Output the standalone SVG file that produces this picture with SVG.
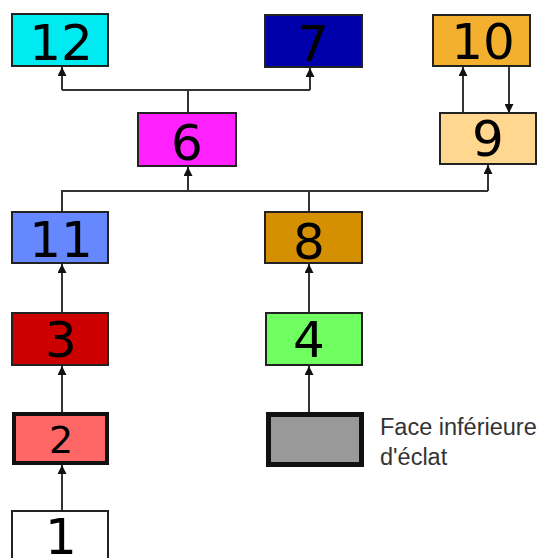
<svg xmlns="http://www.w3.org/2000/svg" width="541" height="558" viewBox="0 0 541 558">
<style>
.box{stroke:#222;stroke-width:2}
.thick{stroke:#111;stroke-width:4}
.num{font-family:"DejaVu Sans",sans-serif;font-size:50px;fill:#000;text-anchor:middle}
.lbl{font-family:"Liberation Sans",Arial,sans-serif;font-size:23.5px;fill:#333}
.c{fill:none;stroke:#333;stroke-width:2}
</style>
<defs>
<marker id="ah" viewBox="0 0 10 10" refX="10" refY="5" markerWidth="4.5" markerHeight="4.5" orient="auto" markerUnits="strokeWidth">
<path d="M0,0 L10,5 L0,10 z" fill="#111"/>
</marker>
</defs>
<rect width="541" height="558" fill="#fff"/>
<g id="connectors">
<path class="c" d="M188,113 V90 M62,90 H310"/>
<path class="c" d="M62,90 V67" marker-end="url(#ah)"/>
<path class="c" d="M310,90 V68" marker-end="url(#ah)"/>
<path class="c" d="M463,113 V67" marker-end="url(#ah)"/>
<path class="c" d="M509,67 V113" marker-end="url(#ah)"/>
<path class="c" d="M62,212 V191 H488 M309,212 V191"/>
<path class="c" d="M188,191 V167" marker-end="url(#ah)"/>
<path class="c" d="M488,191 V165" marker-end="url(#ah)"/>
<path class="c" d="M62,313 V264" marker-end="url(#ah)"/>
<path class="c" d="M62,412 V366" marker-end="url(#ah)"/>
<path class="c" d="M62,511 V465" marker-end="url(#ah)"/>
<path class="c" d="M309,313 V264" marker-end="url(#ah)"/>
<path class="c" d="M309,412 V366" marker-end="url(#ah)"/>
</g>
<g id="n12"><rect class="box" x="12" y="14" width="96" height="52" fill="#00EAF2"/><text class="num" x="61" y="60">12</text></g>
<g id="n7"><rect class="box" x="265" y="15" width="97" height="52" fill="#0000AA"/><text class="num" x="313" y="61">7</text></g>
<g id="n10"><rect class="box" x="433" y="15" width="97" height="51" fill="#F2B02E"/><text class="num" x="483" y="59">10</text></g>
<g id="n6"><rect class="box" x="138" y="113" width="98" height="53" fill="#FF22FF"/><text class="num" x="187" y="160">6</text></g>
<g id="n9"><rect class="box" x="440" y="113" width="96" height="51" fill="#FFD78E"/><text class="num" x="488" y="156">9</text></g>
<g id="n11"><rect class="box" x="12" y="212" width="96" height="51" fill="#6688FF"/><text class="num" x="61" y="257">11</text></g>
<g id="n8"><rect class="box" x="265" y="212" width="97" height="51" fill="#D49000"/><text class="num" x="309" y="259">8</text></g>
<g id="n3"><rect class="box" x="12" y="313" width="96" height="52" fill="#CC0000"/><text class="num" x="61" y="357">3</text></g>
<g id="n4"><rect class="box" x="266" y="313" width="96" height="52" fill="#70FF60"/><text class="num" x="309" y="357">4</text></g>
<g id="n2"><rect class="thick" x="14" y="414" width="93" height="49" fill="#FF6666"/><text class="num" x="61" y="453" style="font-size:38px">2</text></g>
<g id="ngray"><rect x="268.5" y="414.5" width="93" height="50" fill="#999999" stroke="#111" stroke-width="5"/></g>
<g id="n1"><rect class="box" x="12" y="511" width="96" height="60" fill="#FFFFFF"/><text class="num" x="61" y="554">1</text></g>
<g id="legend"><text class="lbl" x="380" y="435">Face inférieure</text><text class="lbl" x="380" y="465">d'éclat</text></g>
</svg>
